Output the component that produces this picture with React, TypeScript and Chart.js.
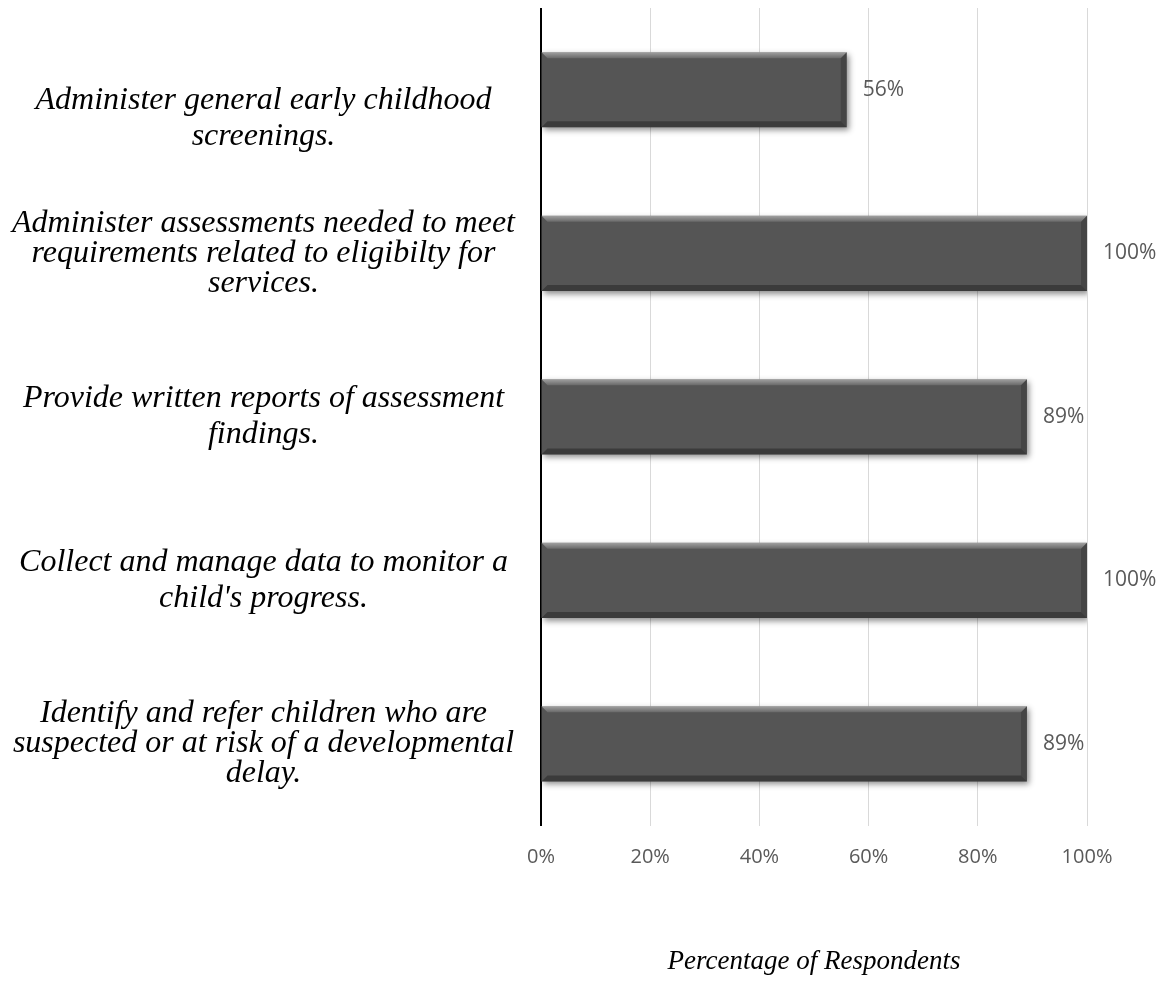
import React, { useEffect, useRef } from "react";
import { Chart, registerables } from "chart.js";

Chart.register(...registerables);

const categories: string[][] = [
  ["Administer general early childhood", "screenings."],
  ["Administer assessments needed to meet", "requirements related to eligibilty for", "services."],
  ["Provide written reports of assessment", "findings."],
  ["Collect and manage data to monitor a", "child's progress."],
  ["Identify and refer children who are", "suspected or at risk of a developmental", "delay."],
];
const values: number[] = [56, 100, 89, 100, 89];
const xTicks: number[] = [0, 20, 40, 60, 80, 100];
const axisTitle = "Percentage of Respondents";

const LABEL_FONT = "italic 32px 'Liberation Serif'";

const barShadow = {
  id: "barShadow",
  beforeDatasetDraw(chart: any) {
    const ctx = chart.ctx;
    ctx.save();
    ctx.shadowColor = "rgba(0,0,0,0.45)";
    ctx.shadowBlur = 6;
    ctx.shadowOffsetX = 2;
    ctx.shadowOffsetY = 3;
  },
  afterDatasetDraw(chart: any) {
    chart.ctx.restore();
  },
};

const bevel = {
  id: "bevel",
  afterDatasetsDraw(chart: any) {
    const ctx = chart.ctx;
    const meta = chart.getDatasetMeta(0);
    meta.data.forEach((bar: any, i: number) => {
      const l = bar.base;
      const r = bar.x;
      const t = bar.y - bar.height / 2;
      const b = bar.y + bar.height / 2;
      const bw = 6;
      ctx.save();
      const gTop = ctx.createLinearGradient(0, t, 0, t + bw);
      gTop.addColorStop(0, "rgba(255,255,255,0.45)");
      gTop.addColorStop(1, "rgba(255,255,255,0.12)");
      ctx.fillStyle = gTop;
      ctx.beginPath();
      ctx.moveTo(l, t);
      ctx.lineTo(r, t);
      ctx.lineTo(r - bw, t + bw);
      ctx.lineTo(l + bw, t + bw);
      ctx.closePath();
      ctx.fill();
      ctx.fillStyle = "rgba(0,0,0,0.18)";
      ctx.beginPath();
      ctx.moveTo(r, t);
      ctx.lineTo(r, b);
      ctx.lineTo(r - bw, b - bw);
      ctx.lineTo(r - bw, t + bw);
      ctx.closePath();
      ctx.fill();
      ctx.fillStyle = "rgba(0,0,0,0.3)";
      ctx.beginPath();
      ctx.moveTo(l, b);
      ctx.lineTo(r, b);
      ctx.lineTo(r - bw, b - bw);
      ctx.lineTo(l + bw, b - bw);
      ctx.closePath();
      ctx.fill();
      ctx.fillStyle = "#595959";
      ctx.font = "21px 'Open Sans'";
      ctx.textAlign = "left";
      ctx.textBaseline = "middle";
      ctx.fillText(values[i] + "%", r + 16, bar.y);
      ctx.restore();
    });
  },
};

// Category labels drawn at the y scale's tick positions
const categoryLabels = {
  id: "categoryLabels",
  afterDraw(chart: any) {
    const ctx = chart.ctx;
    const s = chart.scales.y;
    ctx.save();
    ctx.font = LABEL_FONT;
    ctx.fillStyle = "#000000";
    ctx.textAlign = "center";
    ctx.textBaseline = "middle";
    let widest = 0;
    categories.forEach((lines) => lines.forEach((ln) => (widest = Math.max(widest, ctx.measureText(ln).width))));
    const cx = s.right - 26 - widest / 2;
    categories.forEach((lines, i) => {
      const lh = lines.length > 2 ? 30 : 36;
      const shift = i === 0 ? 29 : 0; // first label sits lower in the original layout
      const cy = s.getPixelForTick(i) + shift;
      const y0 = cy - ((lines.length - 1) * lh) / 2;
      lines.forEach((ln, k) => ctx.fillText(ln, cx, y0 + k * lh));
    });
    ctx.restore();
  },
};

export default function App() {
  const ref = useRef<HTMLCanvasElement | null>(null);
  useEffect(() => {
    if (!ref.current) return;
    const chart = new Chart(ref.current, {
      type: "bar",
      data: {
        labels: categories,
        datasets: [
          {
            data: values,
            backgroundColor: "#555555",
            borderWidth: 0,
            barPercentage: 0.46,
            categoryPercentage: 1,
          },
        ],
      },
      options: {
        indexAxis: "y",
        animation: false,
        responsive: true,
        maintainAspectRatio: false,
        layout: { padding: { top: 0, right: 74, bottom: 0, left: 0 } },
        plugins: { legend: { display: false }, tooltip: { enabled: false } },
        scales: {
          x: {
            min: 0,
            max: 100,
            afterBuildTicks: (scale: any) => {
              scale.ticks = xTicks.map((v) => ({ value: v }));
            },
            grid: { color: "#d9d9d9", lineWidth: 1, drawTicks: false },
            border: { display: false },
            ticks: {
              padding: 20,
              color: "#595959",
              font: { family: "'Open Sans'", size: 20 },
              callback: (v: any) => v + "%",
            },
            title: {
              display: true,
              text: axisTitle,
              color: "#000000",
              font: { family: "'Liberation Serif'", size: 27, style: "italic" },
              padding: { top: 56, bottom: 0 },
            },
          },
          y: {
            grid: { display: false },
            border: { display: true, color: "#000000", width: 2 },
            afterFit: (scale: any) => {
              scale.width = 533;
              scale.paddingTop = 0;
              scale.paddingBottom = 0;
            },
            ticks: { display: false, autoSkip: false },
          },
        },
      },
      plugins: [barShadow, bevel, categoryLabels],
    });
    return () => chart.destroy();
  }, []);
  return (
    <div style={{ width: 1153, height: 970, position: "relative" }}>
      <canvas ref={ref} />
    </div>
  );
}
